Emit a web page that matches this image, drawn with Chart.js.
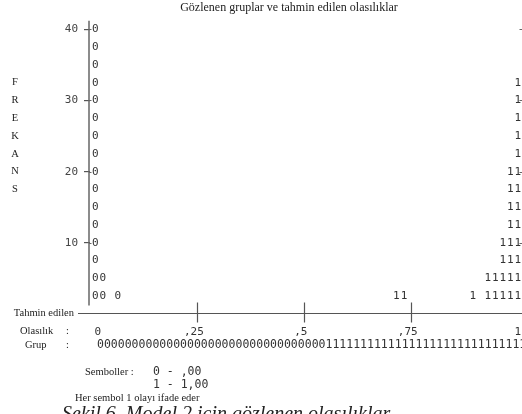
<!DOCTYPE html>
<html><head><meta charset="utf-8">
<script src="https://cdn.jsdelivr.net/npm/chart.js@4/dist/chart.umd.min.js"></script>
<style>html,body{margin:0;padding:0;background:#fff;overflow:hidden;} #wrap{width:522px;height:414px;position:relative;}</style>
</head><body><div id="wrap"><canvas id="c" width="522" height="414"></canvas></div>
<script>
// ---- data ----
const titleText = 'Gözlenen gruplar ve tahmin edilen olasılıklar';
const yAxisLetters = ['F', 'R', 'E', 'K', 'A', 'N', 'S'];
const yLetterRows = [32.5, 30, 27.5, 25, 22.5, 20, 17.5];
const yTicks = [10, 20, 30, 40];
const xTickValues = [0.025, 0.25, 0.5, 0.75, 1.007];
const xTickLabels = ['0', ',25', ',5', ',75', '1'];
const xMarkTicks = [0.25, 0.5, 0.75];
const casesPerSymbol = 2.5;
const group0Probs = [0.0124, 0.0299, 0.065];
const group0Freq = [40, 5, 2.5];
const group1Probs = [0.716, 0.734, 0.895, 0.93, 0.9475, 0.965, 0.9825, 1.0];
const group1Freq = [2.5, 2.5, 2.5, 5, 5, 10, 20, 32.5];
const groupRow = '0'.repeat(33) + '1'.repeat(29);
const symbolLegend = ['0 - ,00', '1 - 1,00'];
const footText = 'Her sembol 1 olayı ifade eder';
const captionText = 'Şekil 6. Model 2 için gözlenen olasılıklar';

function stack(probs, freqs) {
  const pts = [];
  probs.forEach((p, i) => {
    const n = Math.round(freqs[i] / casesPerSymbol);
    for (let k = 1; k <= n; k++) pts.push({ x: p, y: k * casesPerSymbol });
  });
  return pts;
}

const SERIF = '"Liberation Serif", "DejaVu Serif", serif';
const MONO = '"DejaVu Sans Mono", "Liberation Mono", monospace';

const sketchPlugin = {
  id: 'sketch',
  afterDatasetsDraw(chart) {
    const { ctx, scales: { x, y } } = chart;
    ctx.save();
    // symbols
    ctx.font = '11px ' + MONO;
    ctx.fillStyle = '#333';
    ctx.textAlign = 'center';
    ctx.textBaseline = 'middle';
    chart.data.datasets.forEach((ds, i) => {
      chart.getDatasetMeta(i).data.forEach(pt => ctx.fillText(ds.symbol, pt.x, pt.y));
    });
    // y axis line
    const ax = x.getPixelForValue(0) - 1;
    ctx.strokeStyle = '#666';
    ctx.lineWidth = 1.5;
    ctx.beginPath();
    ctx.moveTo(ax, y.getPixelForValue(41.2));
    ctx.lineTo(ax, y.getPixelForValue(1.2));
    ctx.stroke();
    // tick crossings on the y axis and stubs at the right edge
    ctx.lineWidth = 1;
    yTicks.forEach(v => {
      const py = Math.round(y.getPixelForValue(v)) + 0.5;
      ctx.beginPath(); ctx.moveTo(ax, py); ctx.lineTo(ax + 2.5, py); ctx.stroke();
      ctx.beginPath(); ctx.moveTo(519.5, py); ctx.lineTo(522, py); ctx.stroke();
    });
    // x axis line
    const ly = Math.round(y.getPixelForValue(0)) - 0.5;
    ctx.strokeStyle = '#555';
    ctx.lineWidth = 1.2;
    ctx.beginPath(); ctx.moveTo(78, ly); ctx.lineTo(522, ly); ctx.stroke();
    xMarkTicks.forEach(v => {
      const px = Math.round(x.getPixelForValue(v)) + 0.5;
      ctx.beginPath(); ctx.moveTo(px, ly - 11); ctx.lineTo(px, ly + 9); ctx.stroke();
    });
    // serif labels
    ctx.fillStyle = '#222';
    ctx.font = '10.5px ' + SERIF;
    ctx.textAlign = 'center';
    yAxisLetters.forEach((L, i) => ctx.fillText(L, 15, y.getPixelForValue(yLetterRows[i])));
    ctx.textAlign = 'right';
    ctx.fillText('Tahmin edilen', 74, ly);
    ctx.textAlign = 'left';
    const rowP = ly + 18, rowG = ly + 32;
    ctx.fillText('Olasılık', 20, rowP);
    ctx.fillText(':', 66, rowP);
    ctx.fillText('Grup', 25, rowG);
    ctx.fillText(':', 66, rowG);
    ctx.fillText('Semboller :', 85, rowG + 27);
    ctx.fillText(footText, 75, rowG + 53);
    ctx.font = '11.5px ' + MONO;
    ctx.fillStyle = '#333';
    ctx.fillText(groupRow, 97, rowG);
    ctx.fillText(symbolLegend[0], 153, rowG + 27);
    ctx.fillText(symbolLegend[1], 153, rowG + 40);
    // caption (cut by the frame)
    ctx.font = 'italic 20px ' + SERIF;
    ctx.fillStyle = '#222';
    ctx.textBaseline = 'top';
    ctx.fillText(captionText, 62, 405);
    ctx.restore();
  }
};

new Chart(document.getElementById('c').getContext('2d'), {
  type: 'scatter',
  data: {
    datasets: [
      { label: '0', symbol: '0', data: stack(group0Probs, group0Freq), pointRadius: 0, pointHoverRadius: 0 },
      { label: '1', symbol: '1', data: stack(group1Probs, group1Freq), pointRadius: 0, pointHoverRadius: 0 }
    ]
  },
  options: {
    responsive: false,
    animation: false,
    events: [],
    layout: { padding: { left: 56, right: 0, top: 0, bottom: 0 } },
    plugins: {
      legend: { display: false },
      tooltip: { enabled: false },
      title: {
        display: true, text: titleText, color: '#222',
        font: { family: SERIF, size: 12, weight: 'normal' },
        padding: { top: 1, bottom: 5 }
      }
    },
    scales: {
      x: {
        type: 'linear', min: 0, max: 1.01,
        grid: { display: false, drawTicks: false }, border: { display: false },
        afterBuildTicks: s => { s.ticks = xTickValues.map(v => ({ value: v })); },
        afterFit: s => { s.height = 100; s.paddingLeft = 0; s.paddingRight = 0; },
        ticks: {
          callback: (v, i) => xTickLabels[i], autoSkip: false, maxRotation: 0, minRotation: 0,
          padding: 12, labelOffset: -3, color: '#333', font: { family: MONO, size: 11 }
        }
      },
      y: {
        type: 'linear', min: 0, max: 41.25,
        grid: { display: true, drawOnChartArea: false, drawTicks: true, tickLength: 6, color: '#555', lineWidth: 1.2 },
        border: { display: false },
        afterBuildTicks: s => { s.ticks = yTicks.map(v => ({ value: v })); },
        afterFit: s => { s.width = 34; },
        ticks: { padding: 6, color: '#444', font: { family: MONO, size: 11 } }
      }
    }
  },
  plugins: [sketchPlugin]
});
</script>
</body></html>
